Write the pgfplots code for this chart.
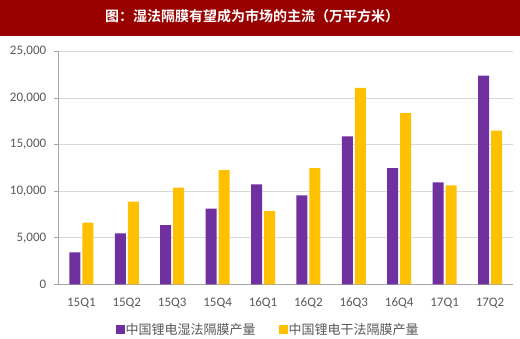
\documentclass[border=0pt]{standalone}
\usepackage{fontspec}
\setmainfont{Carlito}
\newfontfamily\cjk{Noto Sans CJK SC}
\newfontfamily\cjkb{Noto Sans CJK SC Bold}
\usepackage{pgfplots}
\pgfplotsset{compat=1.18}
\definecolor{banner}{HTML}{990000}
\definecolor{wet}{HTML}{7030A0}
\definecolor{dry}{HTML}{FFC000}
\definecolor{tickgray}{HTML}{595959}
\definecolor{gridgray}{HTML}{D9D9D9}
\definecolor{axgray}{HTML}{A6A6A6}
\begin{document}
\begin{tikzpicture}[x=1bp,y=1bp]
\fill[banner] (0,302) rectangle (520,338);
\node[text=white,font=\cjkb\fontsize{14bp}{16bp}\selectfont] at (252,322) {图：湿法隔膜有望成为市场的主流（万平方米）};
\begin{axis}[
  at={(58.7bp,53.7bp)}, anchor=south west,
  scale only axis, width=454bp, height=233bp,
  ybar=2bp, bar width=11bp,
  xmin=-0.5, xmax=9.5, ymin=0, ymax=25000,
  xtick=data,
  xticklabels={15Q1,15Q2,15Q3,15Q4,16Q1,16Q2,16Q3,16Q4,17Q1,17Q2},
  ytick={0,5000,10000,15000,20000,25000},
  scaled y ticks=false,
  /pgf/number format/.cd, 1000 sep={,}, assume math mode=true, /pgfplots/.cd,
  tick label style={font=\fontsize{13bp}{15bp}\selectfont, text=tickgray},
  ymajorgrids, grid style={gridgray, line width=0.8bp},
  axis x line*=bottom, axis y line*=left,
  axis line style={axgray, line width=0.8bp},
  x axis line style={-}, y axis line style={-},
  xtick style={draw=none},
  ytick style={axgray, line width=0.8bp},
  tick align=outside, major tick length=5bp,
  yticklabel style={xshift=-4bp},
  xticklabel style={yshift=-5bp},
  legend style={at={(0.46,-0.196)}, anchor=center, draw=none, legend columns=2,
    font=\cjk\fontsize{13bp}{15bp}\selectfont, text=tickgray,
    nodes={inner sep=1bp},
    /tikz/every even column/.append style={column sep=22bp}},
  legend image code/.code={\fill[#1] (0bp,-4.5bp) rectangle (9bp,4.5bp);},
]
\addplot[fill=wet, draw=none] coordinates {(0,3430) (1,5460) (2,6360) (3,8110) (4,10710) (5,9540) (6,15860) (7,12460) (8,10930) (9,22390)};
\addplot[fill=dry, draw=none] coordinates {(0,6610) (1,8860) (2,10360) (3,12250) (4,7860) (5,12460) (6,21070) (7,18360) (8,10610) (9,16500)};
\legend{中国锂电湿法隔膜产量, 中国锂电干法隔膜产量}
\end{axis}
\pgfresetboundingbox
\path[use as bounding box] (0,0) rectangle (520,338);
\end{tikzpicture}
\end{document}
